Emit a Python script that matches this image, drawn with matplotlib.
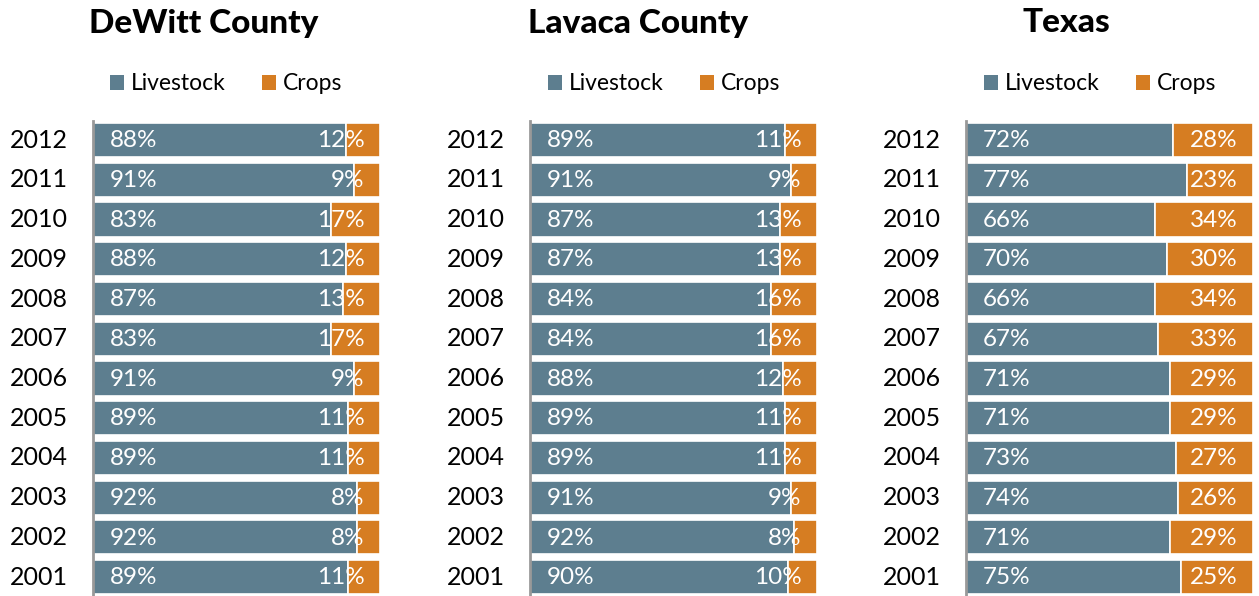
import matplotlib
matplotlib.use("Agg")
import matplotlib.pyplot as plt
from matplotlib.patches import Patch
from matplotlib.transforms import ScaledTranslation

plt.rcParams['font.family'] = ['Lato', 'DejaVu Sans']

years = ["2012", "2011", "2010", "2009", "2008", "2007",
         "2006", "2005", "2004", "2003", "2002", "2001"]

regions = ["DeWitt County", "Lavaca County", "Texas"]

dewitt_livestock = [88, 91, 83, 88, 87, 83, 91, 89, 89, 92, 92, 89]
dewitt_crops = [12, 9, 17, 12, 13, 17, 9, 11, 11, 8, 8, 11]

lavaca_livestock = [89, 91, 87, 87, 84, 84, 88, 89, 89, 91, 92, 90]
lavaca_crops = [11, 9, 13, 13, 16, 16, 12, 11, 11, 9, 8, 10]

texas_livestock = [72, 77, 66, 70, 66, 67, 71, 71, 73, 74, 71, 75]
texas_crops = [28, 23, 34, 30, 34, 33, 29, 29, 27, 26, 29, 25]

livestock = [dewitt_livestock, lavaca_livestock, texas_livestock]
crops = [dewitt_crops, lavaca_crops, texas_crops]

c_live = "#5d7e8f"
c_crop = "#d67d22"

W, H = 1259, 596
fig = plt.figure(figsize=(W / 100, H / 100), dpi=100)

lefts = [93, 530, 966]
title_x = [204, 638, 1066]
legend_x = [226, 664, 1100]
ax_w = 287
ax_top = 121
ax_bot = 597

for i, name in enumerate(regions):
    ax = fig.add_axes([lefts[i] / W, (H - ax_bot) / H, ax_w / W, (ax_bot - ax_top) / H])
    ypos = list(range(len(years)))
    ax.barh(ypos, livestock[i], height=0.86, color=c_live, edgecolor="white",
            linewidth=1.2)
    ax.barh(ypos, crops[i], left=livestock[i], height=0.86, color=c_crop,
            edgecolor="white", linewidth=1.2)
    for y, lv, cr in zip(ypos, livestock[i], crops[i]):
        ax.annotate(f"{lv}%", xy=(0, y), xytext=(12, -0.5), textcoords="offset points",
                    ha="left", va="center", color="white", fontsize=17.5)
        ax.annotate(f"{cr}%", xy=(100, y), xytext=(-11, -0.5), textcoords="offset points",
                    ha="right", va="center", color="white", fontsize=17.5)
    ax.set_xlim(0, 100)
    ax.set_ylim(len(years) - 0.5, -0.48)
    ax.set_yticks(ypos)
    ax.set_yticklabels(years, fontsize=18, color="black")
    ax.tick_params(axis="y", length=0, pad=18)
    lift = ScaledTranslation(0, 2 / 100, fig.dpi_scale_trans)
    for lbl in ax.get_yticklabels():
        lbl.set_transform(lbl.get_transform() + lift)
    ax.set_xticks([])
    for s in ["top", "right", "bottom"]:
        ax.spines[s].set_visible(False)
    ax.spines["left"].set_color("#999999")
    ax.spines["left"].set_linewidth(2)

    fig.text(title_x[i] / W, 1 - 23 / H, name, ha="center", va="center",
             fontsize=24, fontweight="black", color="black")
    handles = [Patch(facecolor=c_live, edgecolor="none", label="Livestock"),
               Patch(facecolor=c_crop, edgecolor="none", label="Crops")]
    fig.legend(handles=handles, loc="center", bbox_to_anchor=(legend_x[i] / W, 1 - 84 / H),
               ncol=2, frameon=False, fontsize=16.5, handlelength=0.6,
               handleheight=0.6, handletextpad=0.3, columnspacing=1.6)

fig.savefig("out.png", dpi=100, facecolor="white")
